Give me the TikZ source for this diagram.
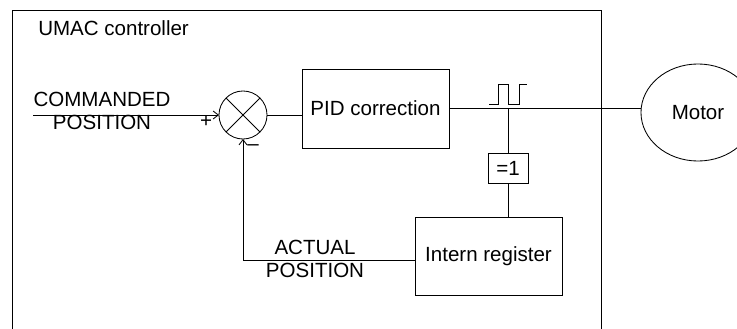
\documentclass[tikz,border=0pt]{standalone}
\usepackage{fontspec}
\setmainfont{Liberation Sans}
\usetikzlibrary{arrows.meta,shapes.geometric}
\tikzset{
  umac line/.style={black,line width=.6pt},
  umac arrow/.style={umac line,-{Straight Barb[length=1.3mm,width=2mm]}},
  umac block/.style={draw,umac line,inner sep=0pt,outer sep=0pt},
  umac sum/.style={circle,draw,umac line,minimum size=1.2cm,inner sep=0pt,outer sep=0pt},
  umac motor/.style={ellipse,draw,umac line,minimum width=2.85cm,minimum height=2.425cm,inner sep=0pt,outer sep=0pt},
  umac text/.style={inner sep=0pt,align=center}
}
\begin{document}
\begin{tikzpicture}[x=.025cm,y=-.025cm,font=\fontsize{14.6}{16.4}\selectfont]
  \useasboundingbox (0,0) rectangle (737,329);
  % controller frame, open at the bottom
  \draw[umac line] (12,329) |- (601,10) -- (601,329);
  \node[umac text,anchor=base west] (title) at (38,35) {UMAC controller};
  \node[umac sum] (sum) at (243,115) {};
  \draw[umac line] (sum.north west) -- (sum.south east) (sum.north east) -- (sum.south west);
  \node[umac block,minimum width=3.675cm,minimum height=1.975cm] (pid) at (375.5,108.5) {PID correction};
  \node[umac block,minimum width=1cm,minimum height=.75cm] (xor) at (508,168) {=1};
  \node[umac block,minimum width=3.675cm,minimum height=1.95cm] (reg) at (488.5,256) {Intern register};
  \node[umac motor] (motor) at (698,112.5) {Motor};
  \coordinate (cmd) at (33,115);
  \coordinate (tap) at (pid.east -| xor);
  % signal path
  \draw[umac arrow] (cmd) -- (sum.west);
  \draw[umac line] (sum.east) -- (sum.east -| pid.west);
  \draw[umac line] (pid.east) -- (pid.east -| motor.west);
  \draw[umac line] (tap) -- (xor.north);
  \draw[umac line] (xor.south) -- (xor.south |- reg.north);
  \draw[umac arrow] ([yshift=-.1cm]reg.west) -| (sum.south);
  % pulse symbol
  \draw[umac line] (489,104) -- (498,104) -- (498,84) -- (508,84) -- (508,104)
    -- (519,104) -- (519,84) -- (527,84);
  \node[umac text] (cmdlabel) at (102,111) {COMMANDED\\POSITION};
  \node[umac text] (actlabel) at (315,259) {ACTUAL\\POSITION};
  \node[umac text] (plus) at (206,122) {+};
  \node[umac text] (minus) at (253,148) {–};
\end{tikzpicture}
\end{document}
